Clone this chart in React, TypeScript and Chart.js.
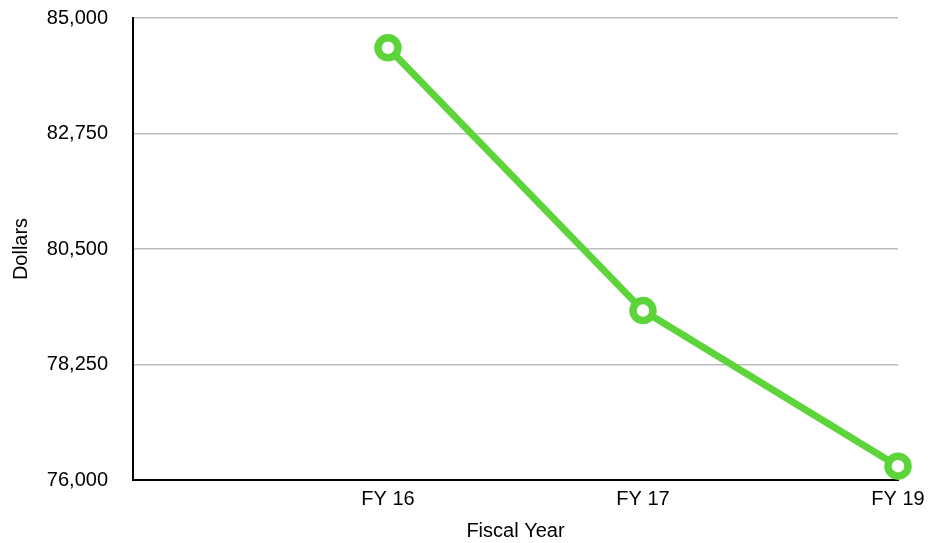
import React, { useEffect, useRef } from "react";
import { Chart, registerables } from "chart.js";

Chart.register(...registerables);

const categories = ["", "FY 16", "FY 17", "FY 19"];
const dollars: (number | null)[] = [null, 84420, 79300, 76270];
const yTicks = [76000, 78250, 80500, 82750, 85000];

export default function App() {
  const ref = useRef<HTMLCanvasElement>(null);
  useEffect(() => {
    if (!ref.current) return;
    const font = { family: "'Liberation Sans', Arial, Helvetica, sans-serif", size: 20 };
    const chart = new Chart(ref.current, {
      type: "line",
      data: {
        labels: categories,
        datasets: [
          {
            label: "Dollars",
            data: dollars,
            borderColor: "#5cd43a",
            backgroundColor: "#ffffff",
            borderWidth: 7,
            pointRadius: 10,
            pointBorderWidth: 7.5,
            pointBackgroundColor: "#ffffff",
            pointBorderColor: "#5cd43a",
            tension: 0,
            clip: false as any,
          },
        ],
      },
      options: {
        animation: false,
        responsive: false,
        maintainAspectRatio: false,
        layout: { padding: { top: 18, right: 30, left: 0, bottom: 0 } },
        plugins: { legend: { display: false }, tooltip: { enabled: false } },
        scales: {
          x: {
            type: "category",
            offset: false,
            grid: { display: false, drawTicks: false },
            border: { display: true, color: "#000000", width: 2 },
            ticks: { color: "#000", font, padding: 7, maxRotation: 0, autoSkip: false },
            title: { display: true, text: "Fiscal Year", color: "#000", font, padding: { top: 8, bottom: 0 } },
            afterFit: (s: any) => {
              s.height = 63;
              s.paddingLeft = 0;
              s.paddingRight = 0;
            },
          },
          y: {
            min: 76000,
            max: 85000,
            afterBuildTicks: (s: any) => { s.ticks = yTicks.map((v) => ({ value: v })); },
            grid: { color: "#bdbdbd", lineWidth: 1.5, drawTicks: false },
            border: { display: true, color: "#000000", width: 2 },
            ticks: {
              color: "#000",
              font,
              padding: 25,
              callback: (v: any) => Number(v).toLocaleString("en-US"),
            },
            title: { display: true, text: "Dollars", color: "#000", font, padding: { top: 9, bottom: 0 } },
            afterFit: (s: any) => {
              s.width = 133;
              s.paddingTop = 0;
              s.paddingBottom = 0;
            },
          },
        },
      },
    });
    return () => chart.destroy();
  }, []);
  return (
    <div style={{ position: "fixed", left: 0, top: 0, width: 928, height: 543, background: "#fff" }}>
      <canvas ref={ref} width={928} height={543} style={{ width: 928, height: 543 }} />
    </div>
  );
}
